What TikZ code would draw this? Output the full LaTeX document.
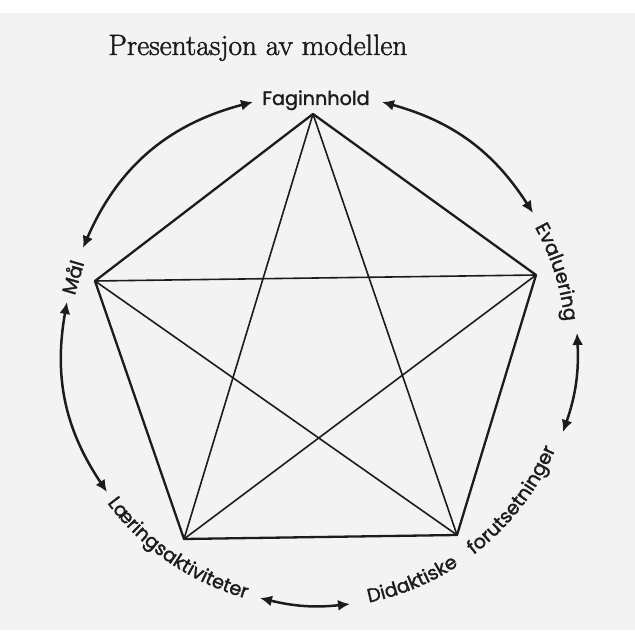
\documentclass[tikz,border=0pt]{standalone}
\usepackage{fontspec}
\newfontfamily\lblfont{Poppins}[BoldFont=Poppins,BoldFeatures={FakeBold=1.6}]
\newfontfamily\ttlfont{Latin Modern Roman}[RawFeature={embolden=1.6}]
\usepackage{tikz}
\usetikzlibrary{arrows.meta,decorations.text}
\definecolor{paper}{RGB}{243,243,243}
\definecolor{ink}{RGB}{28,28,28}
\tikzset{
  edge/.style={draw=ink,line width=1.15pt,line join=round},
  diag/.style={draw=ink,line width=0.8pt},
  arr/.style={{Latex[length=6pt,width=5.5pt]}-{Latex[length=6pt,width=5.5pt]},
              draw=ink,line width=1.25pt},
  lbl/.style={font=\lblfont\bfseries\fontsize{9.6}{11}\selectfont,text=ink,inner sep=0pt},
  ttl/.style={font=\ttlfont\fontsize{14.7}{17}\selectfont,text=ink,inner sep=0pt},
  arclbl/.style={decorate,decoration={text along path,text align=center,
              text={|\lblfont\bfseries\fontsize{9.6}{11}\selectfont\color{ink}|#1}}},
}

\begin{document}
\begin{tikzpicture}[x=0.5pt,y=0.5pt]
\fill[paper] (-316,-282) rectangle (319,335);
\fill[white] (-316,335) rectangle (319,348);
\useasboundingbox (-316,-282) rectangle (319,348);

\node[ttl,anchor=base west] (title) at (-208,293) {Presentasjon av modellen};

% corners of the pentagon
\coordinate (fag) at (-3,234);
\coordinate (eva) at (220,73);
\coordinate (did) at (141,-187);
\coordinate (lae) at (-132,-191);
\coordinate (mal) at (-221,67);

\draw[edge] (fag) -- (eva) -- (did) -- (lae) -- (mal) -- cycle;
\foreach \a/\b in {fag/did,fag/lae,eva/lae,eva/mal,mal/did}
  \draw[diag] (\a) -- (\b);

% labels round the circle
\node[lbl,anchor=base] (tfag) at (0,243) {Faginnhold};
\node[lbl,rotate=73.7] (tmal) at (163.8:254) {Mål};
\path[arclbl=Evaluering] (45:250) arc[start angle=45,end angle=-10,radius=250];
\path[arclbl=Læringsaktiviteter] (200:260) arc[start angle=200,end angle=271,radius=260];
\path[arclbl=Didaktiske] (262.5:260) arc[start angle=262.5,end angle=322.5,radius=260];
\path[arclbl=forutsetninger] (287.2:260) arc[start angle=287.2,end angle=357.2,radius=260];

% ends of the arrows
\coordinate (fm1) at (-63,246);  \coordinate (fm2) at (-233,100);
\coordinate (fe1) at (217,135);  \coordinate (fe2) at (66,246);
\coordinate (ed1) at (247,-84);  \coordinate (ed2) at (261,15);
\coordinate (dl1) at (-56,-250); \coordinate (dl2) at (34,-256);
\coordinate (lm1) at (-249,46);  \coordinate (lm2) at (-209,-144);

\draw[arr] (fm1) to[bend right=26] (fm2);
\draw[arr] (fe1) to[bend right=21] (fe2);
\draw[arr] (ed1) to[bend right=11] (ed2);
\draw[arr] (dl1) to[bend right=10] (dl2);
\draw[arr] (lm1) to[bend right=22] (lm2);
\end{tikzpicture}
\end{document}
